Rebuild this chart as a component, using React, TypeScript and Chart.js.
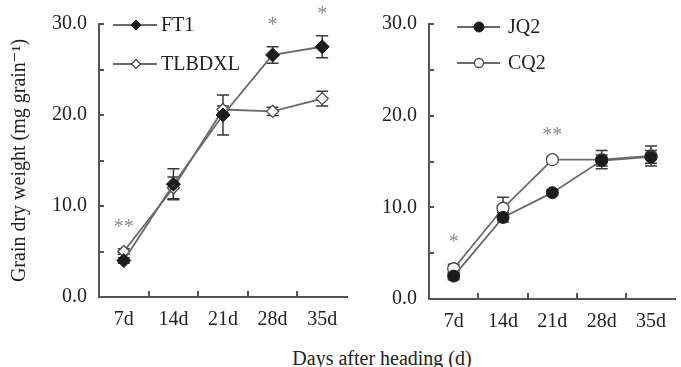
import React, { useEffect, useRef } from 'react';
import { Chart, registerables } from 'chart.js';
import { drawPoint } from 'chart.js/helpers';

Chart.register(...registerables);

const categories = ['7d', '14d', '21d', '28d', '35d'];

const ft1 = [4.0, 12.4, 20.0, 26.6, 27.5];
const ft1Err = [0.3, 1.7, 2.2, 0.9, 1.2];
const tlbdxl = [5.0, 12.0, 20.6, 20.4, 21.8];
const tlbdxlErr = [0.3, 1.2, 0.4, 0.45, 0.8];
const leftSig = ['**', '', '', '*', '*'];

const jq2 = [2.5, 8.9, 11.6, 15.1, 15.5];
const jq2Err = [0.4, 0.5, 0.3, 0.6, 0.7];
const cq2 = [3.3, 9.9, 15.2, 15.2, 15.6];
const cq2Err = [0.5, 1.2, 0.3, 1.0, 1.1];
const rightSig = ['*', '', '**', '', ''];

const yMin = 0;
const yMax = 30;
const yStep = 5;
const yLabelStep = 10;

const xTitle = 'Days after heading (d)';
const yTitle = 'Grain dry weight (mg grain\u207B\u00B9)';

const FONT = '"Liberation Serif", "Times New Roman", "DejaVu Serif", serif';
const AXIS = '#555555';
const LINE = '#6a6a6a';
const DARK = '#1c1c1c';
const STAR = '#8c8c8c';

const annotPlugin = {
  id: 'annot',
  beforeDatasetsDraw(chart: any, _args: any, opts: any) {
    const ctx = chart.ctx;
    const ys = chart.scales.y;
    ctx.save();
    ctx.strokeStyle = '#3a3a3a';
    ctx.lineWidth = 1.5;
    (opts.errors || []).forEach((errs: number[], di: number) => {
      const meta = chart.getDatasetMeta(di);
      const vals = chart.data.datasets[di].data as number[];
      meta.data.forEach((pt: any, j: number) => {
        const e = errs[j];
        if (!e) return;
        const x = pt.x;
        const t = ys.getPixelForValue(vals[j] + e);
        const b = ys.getPixelForValue(vals[j] - e);
        const c = opts.cap;
        ctx.beginPath();
        ctx.moveTo(x, t); ctx.lineTo(x, b);
        ctx.moveTo(x - c, t); ctx.lineTo(x + c, t);
        ctx.moveTo(x - c, b); ctx.lineTo(x + c, b);
        ctx.stroke();
      });
    });
    ctx.restore();
  },
  afterDraw(chart: any, _args: any, opts: any) {
    const ctx = chart.ctx;
    const xs = chart.scales.x;
    const ys = chart.scales.y;
    const area = chart.chartArea;
    ctx.save();
    // inward tick marks
    ctx.strokeStyle = AXIS;
    ctx.lineWidth = 2;
    ctx.beginPath();
    for (let i = 1; i < xs.ticks.length; i++) {
      const x = Math.round((xs.getPixelForTick(i - 1) + xs.getPixelForTick(i)) / 2);
      ctx.moveTo(x, area.bottom);
      ctx.lineTo(x, area.bottom - 6);
    }
    ys.ticks.forEach((t: any) => {
      if (t.value === yMin) return;
      const y = Math.round(ys.getPixelForValue(t.value));
      ctx.moveTo(area.left, y);
      ctx.lineTo(area.left + 5, y);
    });
    ctx.stroke();

    // significance stars
    ctx.fillStyle = STAR;
    ctx.font = `20px ${FONT}`;
    ctx.textAlign = 'center';
    ctx.textBaseline = 'alphabetic';
    (opts.sig || []).forEach((s: string, j: number) => {
      if (!s) return;
      let top = Infinity;
      chart.data.datasets.forEach((ds: any, di: number) => {
        const v = ds.data[j] + ((opts.errors[di] || [])[j] || 0);
        top = Math.min(top, ys.getPixelForValue(v));
      });
      const x = chart.getDatasetMeta(0).data[j].x;
      const cy = top - opts.starGap;
      ctx.fillText(s, x, cy + 9);
    });

    // legend
    const lg = opts.legend;
    lg.items.forEach((di: number, k: number) => {
      const ds = chart.data.datasets[di];
      const y = area.top + lg.ys[k];
      ctx.strokeStyle = LINE;
      ctx.lineWidth = 1.8;
      ctx.beginPath();
      ctx.moveTo(area.left + lg.x1, y);
      ctx.lineTo(area.left + lg.x2, y);
      ctx.stroke();
      ctx.fillStyle = ds.pointBackgroundColor;
      ctx.strokeStyle = ds.pointBorderColor;
      ctx.lineWidth = ds.pointBorderWidth;
      drawPoint(ctx, { pointStyle: ds.pointStyle, rotation: 0, radius: lg.radius[k], borderWidth: ds.pointBorderWidth }, area.left + lg.mx, y);
      ctx.fillStyle = '#222';
      ctx.font = `20px ${FONT}`;
      ctx.textAlign = 'left';
      ctx.textBaseline = 'middle';
      ctx.fillText(ds.label, area.left + lg.tx, y + 1);
    });
    ctx.restore();
  },
};

function makeConfig(cfg: any): any {
  return {
    type: 'line',
    data: {
      labels: categories,
      datasets: cfg.datasets,
    },
    plugins: [annotPlugin],
    options: {
      animation: false,
      responsive: false,
      maintainAspectRatio: false,
      devicePixelRatio: 1,
      layout: { padding: { top: cfg.top, right: cfg.padRight, left: 0, bottom: 0 } },
      plugins: {
        legend: { display: false },
        tooltip: { enabled: false },
        annot: {
          errors: cfg.errors,
          sig: cfg.sig,
          cap: 6,
          starGap: 25,
          legend: cfg.legend,
        },
      },
      scales: {
        x: {
          type: 'category',
          offset: true,
          grid: { display: false, drawTicks: false },
          border: { display: true, color: AXIS, width: 2 },
          ticks: { color: '#222', font: { size: 20, family: FONT }, padding: 11, maxRotation: 0, autoSkip: false },
          afterFit: (s: any) => { s.height = cfg.xHeight; },
        },
        y: {
          min: yMin,
          max: yMax,
          grid: { display: false, drawTicks: false },
          border: { display: true, color: AXIS, width: 2 },
          ticks: {
            stepSize: yStep,
            color: '#222',
            font: { size: 20, family: FONT },
            padding: 12,
            callback: (v: any) => (Number(v) % yLabelStep === 0 ? Number(v).toFixed(1) : ''),
          },
          title: cfg.showTitle
            ? { display: true, text: yTitle, color: '#222', font: { size: 20, family: FONT }, padding: { top: 8, bottom: 0 } }
            : { display: false },
          afterFit: (s: any) => { s.width = cfg.yWidth; },
        },
      },
    },
  };
}

function lineDs(label: string, data: number[], style: string, radius: number, filled: boolean) {
  return {
    label,
    data,
    borderColor: LINE,
    borderWidth: 1.8,
    pointStyle: style,
    pointRadius: radius,
    pointBackgroundColor: filled ? DARK : '#ffffff',
    pointBorderColor: filled ? DARK : '#4a4a4a',
    pointBorderWidth: filled ? 1 : 1.3,
    tension: 0,
    fill: false,
  };
}

function Panel({ cfg, left, width, height }: any) {
  const ref = useRef<HTMLCanvasElement | null>(null);
  useEffect(() => {
    if (!ref.current) return;
    const chart = new Chart(ref.current, makeConfig(cfg));
    return () => chart.destroy();
  }, []);
  return (
    <canvas
      ref={ref}
      width={width}
      height={height}
      style={{ position: 'absolute', left, top: 0, width, height }}
    />
  );
}

const leftCfg = {
  datasets: [
    lineDs('FT1', ft1, 'rectRot', 7, true),
    lineDs('TLBDXL', tlbdxl, 'rectRot', 6, false),
  ],
  errors: [ft1Err, tlbdxlErr],
  sig: leftSig,
  top: 22,
  padRight: 2,
  xHeight: 43,
  yWidth: 99,
  showTitle: true,
  legend: { items: [0, 1], ys: [1, 40], x1: 14, x2: 58, mx: 37, tx: 62, radius: [5, 4.5] },
};

const rightCfg = {
  datasets: [
    lineDs('JQ2', jq2, 'circle', 6, true),
    lineDs('CQ2', cq2, 'circle', 6, false),
  ],
  errors: [jq2Err, cq2Err],
  sig: rightSig,
  top: 24,
  padRight: 0,
  xHeight: 41,
  yWidth: 69,
  showTitle: false,
  legend: { items: [0, 1], ys: [3, 39], x1: 28, x2: 71, mx: 50, tx: 79, radius: [5, 4.5] },
};

export default function App() {
  useEffect(() => {
    document.body.style.margin = '0';
  }, []);
  return (
    <div style={{ position: 'absolute', left: 0, top: 0, width: 681, height: 367, overflow: 'hidden', background: '#fff' }}>
      <Panel cfg={leftCfg} left={0} width={355} height={340} />
      <Panel cfg={rightCfg} left={360} width={323} height={340} />
      <div
        style={{
          position: 'absolute',
          left: 232,
          top: 348,
          width: 300,
          textAlign: 'center',
          fontFamily: FONT,
          fontSize: 20,
          lineHeight: '20px',
          color: '#222',
        }}
      >
        {xTitle}
      </div>
    </div>
  );
}
